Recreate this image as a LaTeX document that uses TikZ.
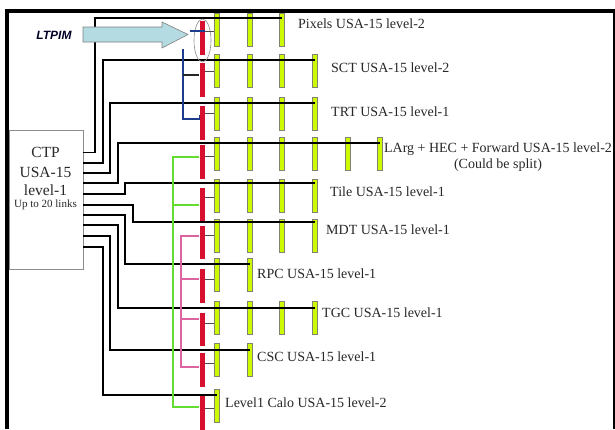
\documentclass[tikz,border=0pt]{standalone}
\usepackage{fontspec}
\setmainfont{Liberation Serif}
\newfontfamily\ltpimfont{Liberation Sans}
\usetikzlibrary{shapes.geometric,calc}
\definecolor{barred}{RGB}{216,16,48}
\definecolor{bargreen}{RGB}{204,250,0}
\definecolor{barline}{RGB}{130,130,110}
\definecolor{navyline}{RGB}{30,60,140}
\definecolor{tapgreen}{RGB}{100,220,50}
\definecolor{tappink}{RGB}{220,100,160}
\definecolor{arrowfill}{RGB}{180,218,226}
\definecolor{labeltext}{RGB}{40,40,40}
\tikzset{
  wire/.style={black, line width=1.5pt},
  tapline/.style={black!70, line width=0.9pt},
  gbar/.style={draw=barline, fill=bargreen, line width=0.6pt, minimum width=5pt, inner sep=0pt, anchor=north},
  rbar/.style={fill=barred, draw=none, minimum width=5pt, inner sep=0pt, anchor=north},
  rowlabel/.style={anchor=west, inner sep=0pt, text=labeltext, font=\fontsize{14}{16}\selectfont},
  ctptext/.style={inner sep=0pt, text=labeltext},
  frameline/.style={black, line width=3.8pt}
}
\begin{document}
\begin{tikzpicture}[x=1pt,y=-1pt]
\useasboundingbox (0,0) rectangle (615,429);
\fill[white] (0,0) rectangle (615,429);

% frame
\draw[frameline] (5,11) -- (615,11);
\draw[frameline] (7,9.5) -- (7,429);
\draw[black, line width=3pt] (614,9.5) -- (614,429);

% CTP box
\node[draw=black!45, fill=white, line width=0.6pt, minimum width=74pt, minimum height=139pt, inner sep=0pt, anchor=north west] (ctp) at (8.5,129.5) {};
\node[ctptext, font=\fontsize{15.5}{18}\selectfont] (ctp1) at (45.5,152) {CTP};
\node[ctptext, font=\fontsize{15.5}{18}\selectfont] (ctp2) at (45.5,172) {USA-15};
\node[ctptext, font=\fontsize{15.5}{18}\selectfont] (ctp3) at (45.5,190) {level-1};
\node[ctptext, font=\fontsize{11}{13}\selectfont] (ctp4) at (45.5,205) {Up to 20 links};

% red bars and green bars
\foreach \n/\bt/\nb/\rt/\rh in {1/13/3/21/34, 2/54/4/63/34, 3/97/4/106/34, 4/137/6/145/34, 5/179/4/188/34, 6/219/4/226/33, 7/258/2/269/34, 8/301/4/313/33, 9/343/2/353/34, 10/389/1/395/36}{
  \node[rbar, minimum height=\rh pt] (red\n) at (202,\rt) {};
  \foreach \k in {1,...,\nb}{
    \pgfmathsetmacro{\cx}{217+32.6*(\k-1)}
    \node[gbar, minimum height=33pt] (r\n-\k) at (\cx,\bt) {};
  }
}

% LTPIM label
\node[font=\ltpimfont\bfseries\itshape\fontsize{12}{14}\selectfont, text=black!85!blue, inner sep=0pt] (ltpim) at (54,35) {LTPIM};

% row wires from CTP
\foreach \n/\ly/\nb/\by/\vx in {1/18/3/152.7/95, 2/60/4/163/103, 3/103/4/173/110, 4/143/6/183/118, 5/183/4/194/125, 6/222/4/205/133, 7/264/2/215/125, 8/308/4/225/118, 9/350/2/236/110, 10/395/1/247/103}{
  \draw[wire] (ctp.east |- 0,\by) -| (\vx,\ly) -- (r\n-\nb.center |- 0,\ly);
}

% LTPIM block arrow
\draw[draw=black!50, fill=arrowfill, line width=0.6pt] (83,27) -- (162,27) -- (162,22) -- (188,34.5) -- (162,48) -- (162,42) -- (83,42) -- cycle;

% ellipse around first red bar
\node[draw=black!45, ellipse, line width=0.6pt, minimum width=17pt, minimum height=43pt, inner sep=0pt] (ring) at (202.5,40.5) {};

% taps from red bars to first green column
\foreach \n/\cy in {1/31, 2/71, 3/113, 4/156, 5/197, 6/235, 7/279, 8/323, 9/363, 10/408}{
  \draw[tapline] (red\n.east |- 0,\cy) -- (r\n-1.west |- 0,\cy);
}

% blue (LTPIM) taps
\coordinate (bluetop) at (183,49);
\draw[navyline, line width=1.2pt] (190,31) -- (red1.east |- 0,31);
\draw[navyline, line width=1.2pt] (bluetop) -- (183,119) -- (red3.west |- 0,119) -- (red3.west |- 0,115);
\draw[black!85, line width=1.2pt] (183,75) -- (red2.west |- 0,75);

% green taps
\draw[tapgreen, line width=1.2pt] (red4.west |- 0,157) -- (173,157) -- (173,407) -- (red10.west |- 0,407);
\draw[tapgreen, line width=1.2pt] (173,205) -- (red5.west |- 0,205);

% pink taps
\draw[tappink, line width=1.2pt] (red6.west |- 0,236) -- (181,236) -- (181,367) -- (red9.west |- 0,367);
\draw[tappink, line width=1.2pt] (181,279) -- (red7.west |- 0,279);
\draw[tappink, line width=1.2pt] (181,319) -- (red8.west |- 0,319);

% row labels
\node[rowlabel] (l1) at (298,24) {Pixels USA-15 level-2};
\node[rowlabel] (l2) at (331,68) {SCT USA-15 level-2};
\node[rowlabel] (l3) at (331,112) {TRT USA-15 level-1};
\node[rowlabel, anchor=center, align=center] (l4) at (498,157) {LArg + HEC + Forward USA-15 level-2\\(Could be split)};
\node[rowlabel] (l5) at (330,192) {Tile USA-15 level-1};
\node[rowlabel] (l6) at (326,230) {MDT USA-15 level-1};
\node[rowlabel] (l7) at (257,273.5) {RPC USA-15 level-1};
\node[rowlabel] (l8) at (322,313) {TGC USA-15 level-1};
\node[rowlabel] (l9) at (257,357) {CSC USA-15 level-1};
\node[rowlabel] (l10) at (225,403) {Level1 Calo USA-15 level-2};
\end{tikzpicture}
\end{document}
